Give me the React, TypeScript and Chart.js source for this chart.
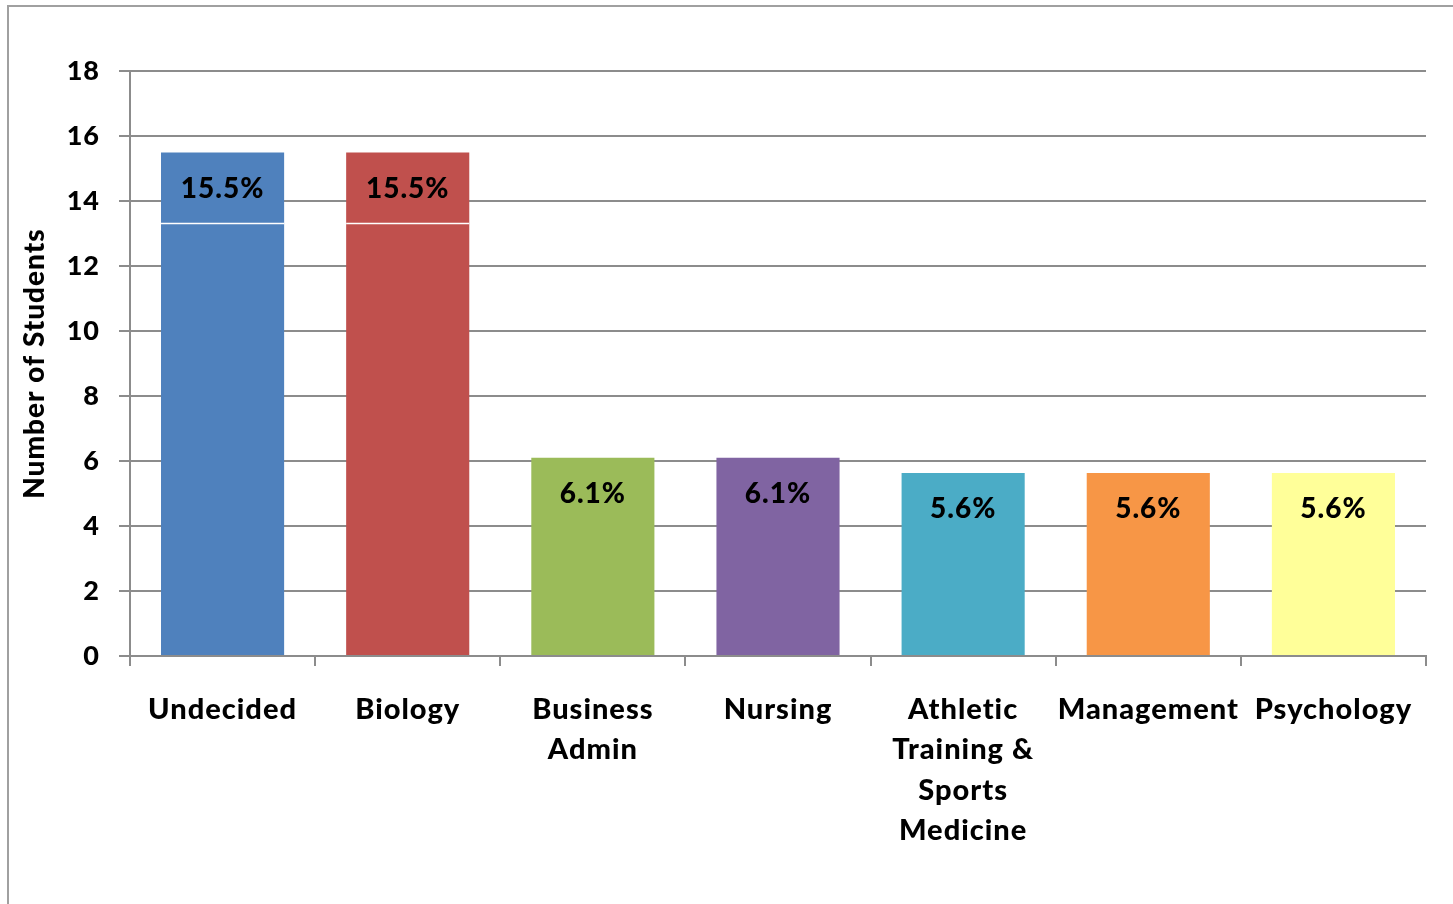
import React, { useEffect, useRef } from "react";
import { Chart, registerables } from "chart.js";

Chart.register(...registerables);

const categories: (string | string[])[] = [
  "Undecided",
  "Biology",
  ["Business", "Admin"],
  "Nursing",
  ["Athletic", "Training &", "Sports", "Medicine"],
  "Management",
  "Psychology",
];
const values = [15.49, 15.49, 6.1, 6.1, 5.63, 5.63, 5.63];
const percentLabels = ["15.5%", "15.5%", "6.1%", "6.1%", "5.6%", "5.6%", "5.6%"];
const barColors = ["#4F81BD", "#C0504D", "#9BBB59", "#8064A2", "#4BACC6", "#F79646", "#FFFF99"];
const splitValues = [13.3, 13.3, null, null, null, null, null];
const yTitle = "Number of Students";

const FONT = "Lato, 'Open Sans', sans-serif";

const spacingPlugin = {
  id: "letterSpacing",
  beforeUpdate(chart: any) {
    chart.ctx.letterSpacing = "1px";
  },
  beforeDraw(chart: any) {
    chart.ctx.letterSpacing = "1px";
  },
};

const labelPlugin = {
  id: "barLabels",
  afterDatasetsDraw(chart: any) {
    const ctx = chart.ctx;
    const meta = chart.getDatasetMeta(0);
    const yScale = chart.scales.y;
    ctx.save();
    meta.data.forEach((bar: any, i: number) => {
      const sv = splitValues[i];
      const half = bar.width / 2;
      if (sv !== null && sv !== undefined) {
        const y = yScale.getPixelForValue(sv);
        ctx.fillStyle = "#ffffff";
        ctx.fillRect(bar.x - half, y - 1, bar.width, 1.5);
      }
      ctx.fillStyle = "#000000";
      ctx.font = `900 28px ${FONT}`;
      ctx.textAlign = "center";
      ctx.textBaseline = "middle";
      ctx.fillText(percentLabels[i], bar.x, bar.y + 36);
    });
    ctx.restore();
  },
};

export default function App() {
  const canvasRef = useRef<HTMLCanvasElement | null>(null);

  useEffect(() => {
    document.body.style.margin = "0";
    const canvas = canvasRef.current;
    if (!canvas) return;
    const chart = new Chart(canvas, {
      type: "bar",
      data: {
        labels: categories,
        datasets: [
          {
            data: values,
            backgroundColor: barColors,
            borderWidth: 0,
            barPercentage: 0.665,
            categoryPercentage: 1,
          },
        ],
      },
      options: {
        animation: false,
        responsive: false,
        maintainAspectRatio: false,
        layout: { padding: { left: 0, right: 27, top: 71, bottom: 0 } },
        plugins: {
          legend: { display: false },
          tooltip: { enabled: false },
        },
        scales: {
          x: {
            afterFit(scale: any) {
              scale.height = 904 - 656;
            },
            grid: {
              offset: true,
              drawOnChartArea: false,
              drawTicks: true,
              tickLength: 10,
              color: "#8c8c8c",
              lineWidth: 2,
            },
            border: { display: true, color: "#8c8c8c", width: 2 },
            ticks: {
              color: "#000000",
              font: { family: FONT, size: 29, weight: "900", lineHeight: 1.4 },
              padding: 23,
              maxRotation: 0,
              autoSkip: false,
            },
          },
          y: {
            min: 0,
            max: 18,
            afterFit(scale: any) {
              scale.width = 130;
            },
            ticks: {
              stepSize: 2,
              color: "#000000",
              font: { family: FONT, size: 27, weight: "900" },
              padding: 19,
            },
            grid: {
              color: "#8c8c8c",
              lineWidth: 2,
              tickLength: 11,
            },
            border: { display: true, color: "#8c8c8c", width: 2 },
            title: {
              display: true,
              text: yTitle,
              color: "#000000",
              font: { family: FONT, size: 28, weight: "900" },
              padding: { top: 18, bottom: 0 },
            },
          },
        },
      },
      plugins: [spacingPlugin, labelPlugin],
    });
    return () => chart.destroy();
  }, []);

  return (
    <div style={{ position: "relative", width: 1453, height: 904, overflow: "hidden", background: "#fff" }}>
      <div
        style={{
          position: "absolute",
          left: 7,
          top: 5,
          width: 1460,
          height: 920,
          borderLeft: "2px solid #a0a0a0",
          borderTop: "2px solid #a0a0a0",
        }}
      />
      <canvas ref={canvasRef} width={1453} height={904} style={{ position: "absolute", left: 0, top: 0 }} />
    </div>
  );
}
